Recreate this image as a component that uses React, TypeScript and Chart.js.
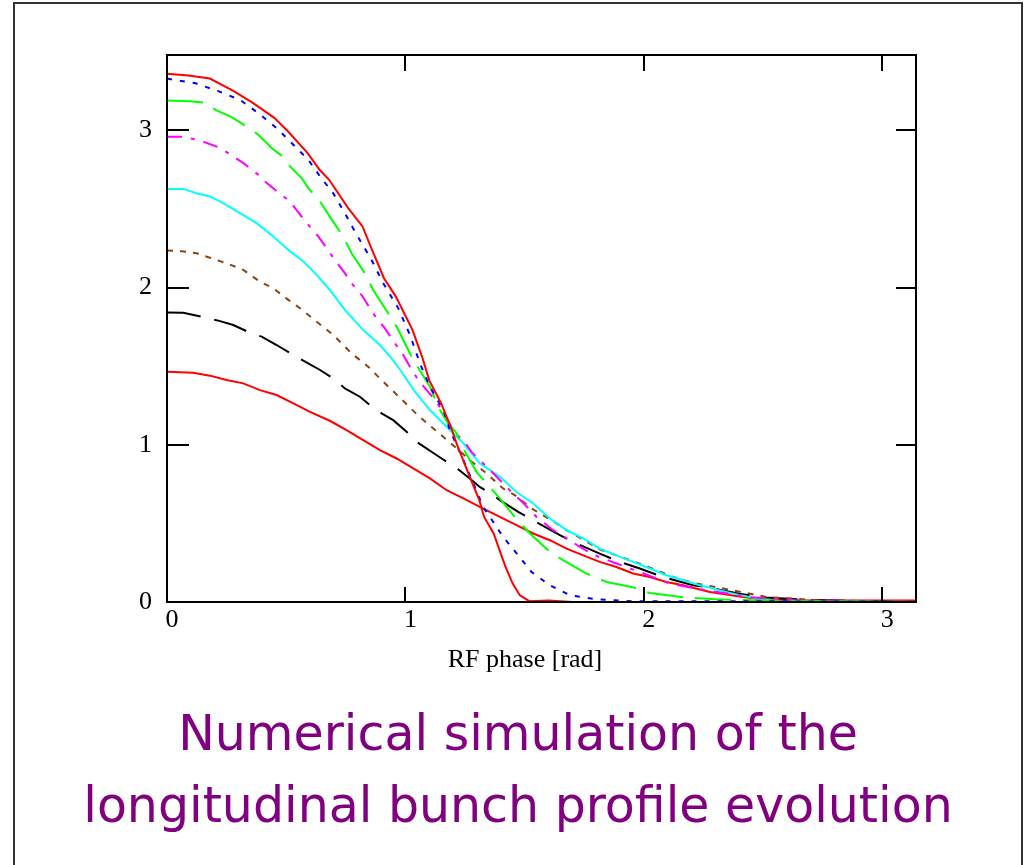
import React, { useEffect, useRef } from "react";
import { Chart, registerables } from "chart.js";

Chart.register(...registerables);

// ---------- data ----------
const X_MIN = 0;
const X_MAX = 3.1416;
const Y_MIN = 0;
const Y_MAX = 3.48;
const X_TICK_VALUES = [0, 1, 2, 3];
const Y_TICK_VALUES = [0, 1, 2, 3];
const X_TITLE = "RF phase [rad]";
const TITLE_LINES = ["Numerical simulation of the", "longitudinal bunch profile evolution"];

const redTopX = [0, 0.09, 0.18, 0.28, 0.36, 0.45, 0.51, 0.59, 0.64, 0.68, 0.76, 0.82, 0.86, 0.91, 0.96, 1.03, 1.07, 1.10, 1.15, 1.19, 1.22, 1.27, 1.31, 1.33, 1.37, 1.40, 1.42, 1.45, 1.48, 1.52, 1.60, 1.70, 3.14];
const redTopY = [3.36, 3.35, 3.33, 3.25, 3.175, 3.08, 2.99, 2.856, 2.75, 2.686, 2.506, 2.389, 2.24, 2.06, 1.943, 1.73, 1.56, 1.41, 1.264, 1.115, 0.987, 0.796, 0.648, 0.541, 0.436, 0.308, 0.223, 0.117, 0.043, 0.005, 0.01, 0, 0];

const blueX = [0, 0.12, 0.215, 0.306, 0.383, 0.46, 0.53, 0.593, 0.642, 0.697, 0.746, 0.788, 0.858, 0.907, 0.97, 1.019, 1.061, 1.103, 1.159, 1.187, 1.243, 1.291, 1.326, 1.368, 1.41, 1.473, 1.529, 1.606, 1.69, 1.80, 1.955, 2.6, 3.14];
const blueY = [3.33, 3.30, 3.25, 3.195, 3.11, 3.015, 2.909, 2.813, 2.707, 2.601, 2.474, 2.357, 2.176, 2.028, 1.869, 1.699, 1.518, 1.369, 1.221, 1.094, 0.903, 0.732, 0.605, 0.51, 0.414, 0.297, 0.191, 0.106, 0.043, 0.017, 0.005, 0.004, 0];

const greenX = [0, 0.096, 0.152, 0.208, 0.271, 0.334, 0.383, 0.439, 0.488, 0.516, 0.565, 0.593, 0.642, 0.683, 0.739, 0.774, 0.83, 0.865, 0.914, 0.963, 1.005, 1.033, 1.068, 1.103, 1.145, 1.179, 1.215, 1.243, 1.27, 1.298, 1.347, 1.396, 1.459, 1.522, 1.599, 1.661, 1.76, 1.844, 1.948, 2.025, 2.158, 2.3, 2.5, 2.7, 3.14];
const greenY = [3.19, 3.185, 3.178, 3.128, 3.085, 3.025, 2.973, 2.888, 2.831, 2.771, 2.697, 2.633, 2.548, 2.452, 2.325, 2.219, 2.092, 1.985, 1.869, 1.752, 1.624, 1.54, 1.455, 1.369, 1.221, 1.136, 1.073, 0.977, 0.903, 0.828, 0.743, 0.659, 0.541, 0.436, 0.329, 0.266, 0.181, 0.127, 0.096, 0.057, 0.032, 0.017, 0.01, 0.004, 0];

const magentaX = [0, 0.068, 0.138, 0.215, 0.257, 0.32, 0.383, 0.411, 0.467, 0.516, 0.551, 0.593, 0.635, 0.67, 0.704, 0.746, 0.774, 0.816, 0.851, 0.879, 0.914, 0.956, 0.991, 1.019, 1.054, 1.089, 1.131, 1.173, 1.208, 1.243, 1.277, 1.355, 1.438, 1.494, 1.55, 1.62, 1.69, 1.732, 1.795, 1.885, 1.983, 2.109, 2.26, 2.45, 2.7, 3.14];
const magentaY = [2.96, 2.96, 2.936, 2.894, 2.856, 2.792, 2.718, 2.675, 2.605, 2.548, 2.478, 2.399, 2.325, 2.251, 2.176, 2.092, 2.028, 1.953, 1.869, 1.805, 1.741, 1.646, 1.571, 1.497, 1.412, 1.348, 1.274, 1.168, 1.073, 1.03, 0.955, 0.839, 0.711, 0.631, 0.541, 0.457, 0.393, 0.35, 0.297, 0.245, 0.191, 0.117, 0.075, 0.03, 0.005, 0];

const cyanX = [0, 0.068, 0.124, 0.18, 0.236, 0.306, 0.376, 0.446, 0.509, 0.572, 0.628, 0.683, 0.746, 0.823, 0.893, 0.942, 0.984, 1.04, 1.103, 1.173, 1.243, 1.312, 1.396, 1.466, 1.536, 1.606, 1.676, 1.746, 1.815, 1.885, 1.955, 2.025, 2.095, 2.165, 2.235, 2.37, 2.47, 2.56, 3.14];
const cyanY = [2.628, 2.628, 2.601, 2.58, 2.538, 2.474, 2.41, 2.325, 2.24, 2.166, 2.081, 1.985, 1.858, 1.73, 1.635, 1.55, 1.465, 1.338, 1.221, 1.115, 1.009, 0.882, 0.796, 0.70, 0.627, 0.531, 0.457, 0.404, 0.34, 0.297, 0.255, 0.213, 0.17, 0.138, 0.106, 0.055, 0.023, 0.005, 0];

const brownX = [0, 0.06, 0.124, 0.18, 0.25, 0.32, 0.39, 0.446, 0.509, 0.558, 0.628, 0.697, 0.774, 0.844, 0.907, 0.977, 1.054, 1.117, 1.2, 1.27, 1.34, 1.41, 1.459, 1.529, 1.613, 1.676, 1.815, 2.011, 2.123, 2.205, 2.37, 2.515, 2.72, 3.14];
const brownY = [2.236, 2.232, 2.219, 2.19, 2.155, 2.113, 2.038, 1.996, 1.922, 1.869, 1.783, 1.699, 1.582, 1.497, 1.401, 1.30, 1.185, 1.104, 0.998, 0.903, 0.818, 0.722, 0.68, 0.595, 0.52, 0.457, 0.335, 0.228, 0.159, 0.122, 0.075, 0.032, 0.012, 0];

const blackX = [0, 0.068, 0.145, 0.215, 0.278, 0.348, 0.397, 0.46, 0.53, 0.579, 0.642, 0.697, 0.746, 0.809, 0.851, 0.9, 0.949, 1.005, 1.047, 1.152, 1.208, 1.27, 1.312, 1.368, 1.396, 1.473, 1.536, 1.648, 1.703, 1.815, 1.9, 1.983, 2.081, 2.207, 2.263, 2.4, 2.51, 2.72, 3.14];
const blackY = [1.841, 1.84, 1.815, 1.79, 1.762, 1.713, 1.688, 1.635, 1.571, 1.529, 1.476, 1.423, 1.359, 1.306, 1.253, 1.2, 1.157, 1.083, 1.019, 0.913, 0.86, 0.786, 0.732, 0.68, 0.648, 0.573, 0.52, 0.425, 0.382, 0.308, 0.255, 0.213, 0.159, 0.106, 0.096, 0.053, 0.028, 0.012, 0];

const redBottomX = [0, 0.11, 0.18, 0.25, 0.32, 0.39, 0.46, 0.53, 0.6, 0.683, 0.753, 0.823, 0.893, 0.963, 1.033, 1.103, 1.173, 1.243, 1.312, 1.396, 1.466, 1.536, 1.606, 1.676, 1.746, 1.815, 1.885, 1.955, 2.025, 2.095, 2.165, 2.277, 2.415, 2.515, 2.7, 3.14];
const redBottomY = [1.465, 1.459, 1.44, 1.412, 1.391, 1.348, 1.317, 1.264, 1.21, 1.153, 1.094, 1.03, 0.966, 0.913, 0.85, 0.786, 0.711, 0.659, 0.605, 0.541, 0.489, 0.436, 0.393, 0.34, 0.297, 0.255, 0.223, 0.181, 0.159, 0.127, 0.106, 0.064, 0.032, 0.015, 0.01, 0.01];

// ---------- helpers ----------
const pts = (xs: number[], ys: number[]) => xs.map((x, i) => ({ x, y: ys[i] }));

const SERIF = '"Liberation Serif", "Times New Roman", serif';
const FONT_SIZE = 26;

const framePlugin = {
  id: "frameTicks",
  afterDraw(chart: any) {
    const { ctx, chartArea, scales } = chart;
    const { left, right, top, bottom } = chartArea;
    const xs = scales.x;
    const ys = scales.y;
    ctx.save();
    ctx.strokeStyle = "#000";
    ctx.lineWidth = 2;
    ctx.strokeRect(left, top, right - left, bottom - top);
    ctx.beginPath();
    X_TICK_VALUES.filter((v) => v > X_MIN).forEach((v) => {
      const px = Math.round(xs.getPixelForValue(v));
      ctx.moveTo(px, bottom);
      ctx.lineTo(px, bottom - 15);
      ctx.moveTo(px, top);
      ctx.lineTo(px, top + 16);
    });
    Y_TICK_VALUES.filter((v) => v > Y_MIN).forEach((v) => {
      const py = Math.round(ys.getPixelForValue(v));
      ctx.moveTo(left, py);
      ctx.lineTo(left + 22, py);
      ctx.moveTo(right, py);
      ctx.lineTo(right - 20, py);
    });
    ctx.stroke();
    ctx.fillStyle = "#000";
    ctx.font = `${FONT_SIZE}px ${SERIF}`;
    ctx.textAlign = "center";
    ctx.textBaseline = "alphabetic";
    ctx.fillText(X_TITLE, 525, 667);
    ctx.restore();
  },
};

export default function App() {
  const canvasRef = useRef<HTMLCanvasElement | null>(null);

  useEffect(() => {
    const canvas = canvasRef.current;
    if (!canvas) return;
    const line = (data: any, color: string, dash: number[]) => ({
      data,
      borderColor: color,
      backgroundColor: color,
      borderWidth: 2,
      borderDash: dash,
      pointRadius: 0,
      tension: 0,
      fill: false,
    });
    const chart = new Chart(canvas, {
      type: "line",
      data: {
        datasets: [
          line(pts(redTopX, redTopY), "#ff0000", []),
          line(pts(blueX, blueY), "#0000ff", [5, 8]),
          line(pts(greenX, greenY), "#00ff00", [36, 12]),
          line(pts(magentaX, magentaY), "#ff00ff", [15, 9, 4, 9]),
          line(pts(cyanX, cyanY), "#00ffff", []),
          line(pts(brownX, brownY), "#8b4513", [6, 7]),
          line(pts(blackX, blackY), "#000000", [34, 14]),
          line(pts(redBottomX, redBottomY), "#ff0000", []),
        ],
      },
      options: {
        animation: false,
        responsive: false,
        devicePixelRatio: 1,
        layout: { padding: { top: 55, right: 111, bottom: 203, left: 0 } },
        plugins: { legend: { display: false }, tooltip: { enabled: false }, title: { display: false } },
        scales: {
          x: {
            type: "linear",
            min: X_MIN,
            max: X_MAX,
            afterFit: (s: any) => { s.height = 60; },
            afterBuildTicks: (s: any) => { s.ticks = X_TICK_VALUES.map((v) => ({ value: v })); },
            grid: { display: false, drawTicks: false },
            border: { display: false },
            ticks: {
              autoSkip: false,
              maxRotation: 0,
              padding: 3,
              labelOffset: 5,
              color: "#000",
              font: { family: SERIF, size: FONT_SIZE },
              callback: (v: any) => String(v),
            },
          },
          y: {
            type: "linear",
            min: Y_MIN,
            max: Y_MAX,
            afterFit: (s: any) => { s.width = 167; },
            afterBuildTicks: (s: any) => { s.ticks = Y_TICK_VALUES.map((v) => ({ value: v })); },
            grid: { display: false, drawTicks: false },
            border: { display: false },
            ticks: {
              padding: 15,
              color: "#000",
              font: { family: SERIF, size: FONT_SIZE },
              callback: (v: any) => String(v),
            },
          },
        },
      },
      plugins: [framePlugin],
    });
    return () => chart.destroy();
  }, []);

  return (
    <div style={{ position: "absolute", left: 0, top: 0, width: 1027, height: 865, overflow: "hidden", background: "#fff" }}>
      <div
        style={{
          position: "absolute",
          left: 13,
          top: 2,
          width: 1010,
          height: 900,
          boxSizing: "border-box",
          border: "2px solid #333",
        }}
      />
      <canvas ref={canvasRef} width={1027} height={865} style={{ position: "absolute", left: 0, top: 0, display: "block" }} />
      <div
        style={{
          position: "absolute",
          left: 14,
          top: 698,
          width: 1008,
          textAlign: "center",
          fontFamily: '"DejaVu Sans", sans-serif',
          fontSize: 49,
          lineHeight: "72px",
          color: "#800080",
          whiteSpace: "nowrap",
        }}
      >
        {TITLE_LINES.map((t, i) => (
          <div key={i}>{t}</div>
        ))}
      </div>
    </div>
  );
}
